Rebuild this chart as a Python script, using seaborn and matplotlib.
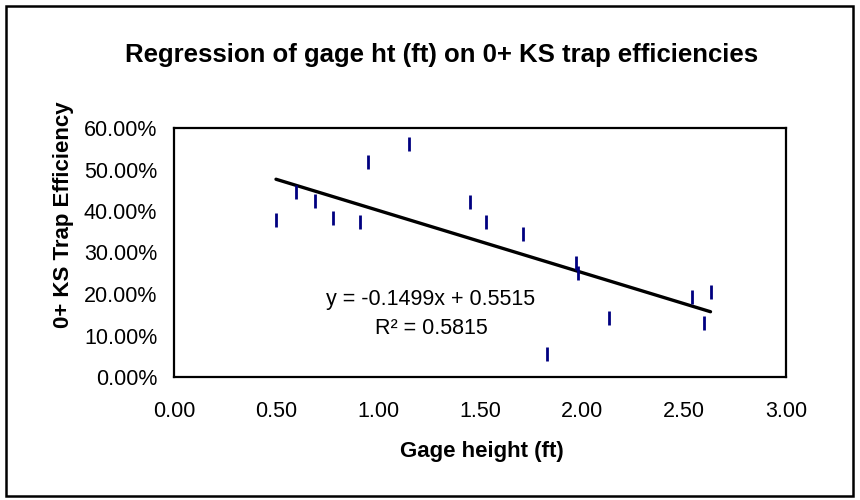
import numpy as np
import pandas as pd
import seaborn as sns
import matplotlib.pyplot as plt
from matplotlib.ticker import PercentFormatter, FixedLocator
from matplotlib.patches import Rectangle

# Data
gage_height = [0.50, 0.60, 0.69, 0.78, 0.91, 0.95, 1.15, 1.45, 1.53, 1.71,
               1.97, 1.98, 2.13, 1.83, 2.54, 2.60, 2.63]
trap_eff = [0.378, 0.446, 0.424, 0.383, 0.374, 0.518, 0.562, 0.422, 0.374, 0.344,
            0.274, 0.251, 0.143, 0.056, 0.192, 0.130, 0.206]
slope = -0.1499
intercept = 0.5515
r_squared = 0.5815
x_ticks = [0.0, 0.5, 1.0, 1.5, 2.0, 2.5, 3.0]
y_ticks = [0.0, 0.1, 0.2, 0.3, 0.4, 0.5, 0.6]

df = pd.DataFrame({'gage': gage_height, 'eff': trap_eff})
fit_x = np.array([min(gage_height), max(gage_height)])
fit = pd.DataFrame({'gage': fit_x, 'eff': slope * fit_x + intercept})

sns.set_style('white')
plt.rcParams['font.family'] = ['Liberation Sans', 'DejaVu Sans']
plt.rcParams['text.color'] = 'black'

fig = plt.figure(figsize=(8.6, 5), dpi=100)
ax = fig.add_axes([174 / 860, 1 - 377 / 500, (786 - 174) / 860, (377 - 128) / 500])

sns.lineplot(data=fit, x='gage', y='eff', color='black', linewidth=2.4, ax=ax)
sns.scatterplot(data=df, x='gage', y='eff', marker='|', s=100, linewidth=2,
                color='#000080', edgecolor='#000080', ax=ax, zorder=3)

ax.set_xlim(0, 3)
ax.set_ylim(0, 0.6)
ax.xaxis.set_major_locator(FixedLocator(x_ticks))
ax.yaxis.set_major_locator(FixedLocator(y_ticks))
ax.xaxis.set_major_formatter(lambda v, p: f'{v:.2f}')
ax.yaxis.set_major_formatter(PercentFormatter(xmax=1, decimals=2))
ax.tick_params(direction='inout', length=8, width=1.3, labelsize=15.5,
               colors='black', labelcolor='black')
ax.tick_params(axis='x', top=False, pad=13)
ax.tick_params(axis='y', pad=8)
for s in ax.spines.values():
    s.set_color('black')
    s.set_linewidth(1.6)

ax.set_xlabel('')
ax.set_ylabel('')
fig.text(482 / 860, 1 - 452 / 500, 'Gage height (ft)', ha='center', va='center',
         fontsize=16, fontweight='bold', color='black')
fig.text(63 / 860, 1 - 215 / 500, '0+ KS Trap Efficiency', ha='center', va='center',
         rotation=90, fontsize=16, fontweight='bold', color='black')
fig.text(442 / 860, 1 - 55 / 500, 'Regression of gage ht (ft) on 0+ KS trap efficiencies',
         ha='center', va='center', fontsize=18.5, fontweight='bold', color='black')

ax.text(1.26, 0.152, f'y = {slope}x + {intercept}\nR² = {r_squared}', ha='center',
        va='center', multialignment='center', fontsize=15.5, linespacing=1.45,
        color='black')

fig.patches.append(Rectangle((6 / 860, 4 / 500), 847 / 860, 490 / 500, transform=fig.transFigure,
                             fill=False, edgecolor='black', linewidth=1.8))

fig.savefig('out.png', dpi=100)
